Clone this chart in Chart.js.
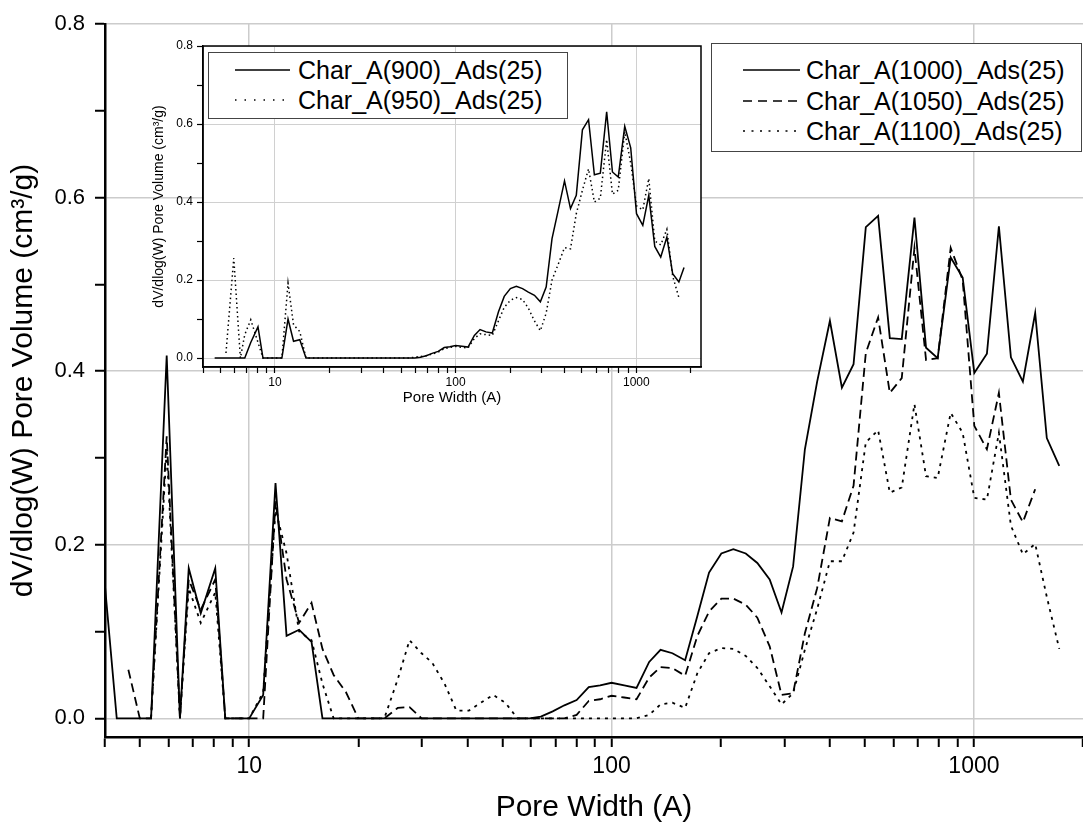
<!DOCTYPE html>
<html>
<head>
<meta charset="utf-8">
<title>Pore size distribution</title>
<script src="https://cdn.jsdelivr.net/npm/chart.js@4.4.1/dist/chart.umd.min.js"></script>
<style>
  html, body { margin: 0; padding: 0; background: #fff; overflow: hidden; }
  #wrap { position: relative; width: 1083px; height: 830px; overflow: hidden; }
  #mainChart { position: absolute; left: 0; top: 0; }
  #insetChart { position: absolute; left: 130px; top: 30px; }
  .legend {
    position: absolute; background: #fff; border: 1.5px solid #444; box-sizing: border-box;
    font-family: "Liberation Sans", Arial, sans-serif; font-size: 25px; color: #000;
  }
  .legend .row { position: absolute; left: 0; right: 0; height: 30px; line-height: 30px; white-space: nowrap; }
  .legend svg { position: absolute; top: 10px; }
  .legend span { position: absolute; top: 0; }
</style>
</head>
<body>
<div id="wrap">
  <!-- canvas is 6px wider than the page: the x axis runs off the right edge like the original -->
  <canvas id="mainChart" width="1089" height="830"></canvas>
  <canvas id="insetChart" width="576" height="380"></canvas>
  <div id="mainLegend" class="legend" style="left:711px;top:43px;width:371px;height:109px"></div>
  <div id="insetLegend" class="legend" style="left:208px;top:52px;width:360px;height:67px"></div>
</div>
<script>
// pore widths (A), shared by every curve
const poreWidth = [
  4.0, 4.31, 4.64, 4.99, 5.36, 5.92, 6.44, 6.81, 7.35, 8.06,
  8.59, 9.25, 10.0, 10.93, 11.82, 12.68, 13.73, 14.86, 15.93, 17.1,
  18.5, 20.0, 21.8, 23.6, 25.7, 27.7, 29.9, 32.0, 34.6, 37.3,
  40.4, 43.6, 47.1, 50.9, 55.0, 59.4, 63.8, 68.8, 74.1, 80.1,
  86.5, 93.0, 100, 108.4, 117.2, 127.0, 136.5, 147.2, 159.6, 172.5,
  185.8, 200.9, 216.8, 234.6, 252.5, 273.1, 294.5, 317.0, 341.6, 369.3,
  400.5, 432.2, 465.4, 503.1, 544.0, 586.0, 632.2, 685.3, 737.7, 794.3,
  862.8, 931.0, 1002.5, 1086, 1172, 1265, 1365, 1476, 1589, 1720, 1837
];

// main plot
const char1000 = [
  0.152, 0, 0, 0, 0, 0.418, 0, 0.173, 0.121, 0.173,
  0, 0, 0, 0.027, 0.271, 0.095, 0.102, 0.088, 0, 0,
  0, 0, 0, 0, 0, 0, 0, 0, 0, 0,
  0, 0, 0, 0, 0, 0, 0.002, 0.008, 0.015, 0.021,
  0.036, 0.038, 0.041, 0.038, 0.035, 0.065, 0.079, 0.075, 0.067, 0.118,
  0.168, 0.190, 0.195, 0.190, 0.179, 0.160, 0.122, 0.175, 0.310, 0.388,
  0.458, 0.381, 0.408, 0.566, 0.579, 0.438, 0.437, 0.577, 0.427, 0.415,
  0.531, 0.508, 0.398, 0.420, 0.567, 0.416, 0.388, 0.467, 0.323, 0.291, null
];
const char1050 = [
  null, null, 0.056, 0, 0, 0.325, 0, 0.160, 0.125, 0.160,
  0, 0, 0, 0, 0.250, 0.160, 0.110, 0.133, 0.080, 0.050,
  0.030, 0, 0, 0, 0.012, 0.013, 0, 0, 0, 0,
  0, 0, 0, 0, 0, 0, 0, 0, 0, 0.004,
  0.020, 0.022, 0.026, 0.024, 0.022, 0.047, 0.059, 0.058, 0.049, 0.095,
  0.123, 0.138, 0.138, 0.131, 0.116, 0.083, 0.027, 0.029, 0.098, 0.150,
  0.231, 0.227, 0.268, 0.421, 0.462, 0.375, 0.392, 0.542, 0.413, 0.415,
  0.542, 0.505, 0.337, 0.310, 0.375, 0.252, 0.226, 0.264, null, null, null
];
const char1100 = [
  null, null, null, null, 0, 0.310, 0, 0.150, 0.110, 0.145,
  0, 0, 0, 0.030, 0.240, 0.190, 0.100, 0.090, 0.040, 0,
  0, 0, 0, 0, 0.045, 0.090, 0.075, 0.064, 0.040, 0.009,
  0.009, 0.018, 0.027, 0.018, 0, 0, 0, 0, 0, 0,
  0, 0, 0, 0, 0, 0.004, 0.016, 0.018, 0.012, 0.052,
  0.075, 0.081, 0.080, 0.072, 0.058, 0.037, 0.016, 0.029, 0.079, 0.126,
  0.181, 0.181, 0.214, 0.318, 0.332, 0.260, 0.266, 0.362, 0.279, 0.277,
  0.352, 0.329, 0.254, 0.252, 0.329, 0.222, 0.189, 0.201, 0.140, 0.080, null
];

// inset plot
const char900 = [
  null, null, 0, 0, 0, 0, 0, 0, 0.040, 0.080,
  0, 0, 0, 0, 0.100, 0.043, 0.047, 0, 0, 0,
  0, 0, 0, 0, 0, 0, 0, 0, 0, 0,
  0, 0, 0, 0, 0, 0, 0.002, 0.006, 0.012, 0.017,
  0.027, 0.029, 0.032, 0.030, 0.028, 0.058, 0.073, 0.067, 0.064, 0.118,
  0.158, 0.178, 0.184, 0.178, 0.169, 0.161, 0.144, 0.182, 0.306, 0.378,
  0.454, 0.383, 0.417, 0.585, 0.611, 0.470, 0.474, 0.631, 0.477, 0.464,
  0.594, 0.539, 0.370, 0.340, 0.417, 0.286, 0.259, 0.310, 0.216, 0.195, 0.232
];
const char950 = [
  null, null, null, null, 0.013, 0.256, 0, 0.060, 0.098, 0.040,
  0, 0, 0, 0, 0.192, 0.085, 0.068, 0, 0, 0,
  0, 0, 0, 0, 0, 0, 0, 0, 0, 0,
  0, 0, 0, 0, 0, 0.002, 0.004, 0.006, 0.010, 0.015,
  0.024, 0.027, 0.030, 0.027, 0.026, 0.050, 0.062, 0.060, 0.058, 0.095,
  0.130, 0.148, 0.155, 0.150, 0.128, 0.095, 0.070, 0.115, 0.200, 0.240,
  0.283, 0.280, 0.370, 0.430, 0.485, 0.400, 0.410, 0.560, 0.420, 0.430,
  0.580, 0.500, 0.390, 0.380, 0.460, 0.300, 0.290, 0.330, 0.210, 0.155, null
];

const mainLabels = ["Char_A(1000)_Ads(25)", "Char_A(1050)_Ads(25)", "Char_A(1100)_Ads(25)"];
const insetLabels = ["Char_A(900)_Ads(25)", "Char_A(950)_Ads(25)"];
const xTickLabels = [10, 100, 1000];
const yTickLabels = [0, 0.2, 0.4, 0.6, 0.8];

// check if the narrow font is there, else fall back to regular
function fontExists(name) {
  const c = document.createElement("canvas").getContext("2d");
  const probe = "Pore Width (A) 1000";
  c.font = "40px monospace";
  const base = c.measureText(probe).width;
  c.font = `40px "${name}", monospace`;
  return c.measureText(probe).width !== base;
}
const hasNarrow = fontExists("Liberation Sans Narrow");
const narrowFam = hasNarrow ? '"Liberation Sans Narrow", "Liberation Sans", sans-serif' : '"Liberation Sans", Arial, sans-serif';
const regularFam = '"Liberation Sans", Arial, sans-serif';

function toPoints(vals) {
  return poreWidth.map((w, i) => ({ x: w, y: vals[i] }));
}

// 1..9 x decade positions for the tick marks
function logTickValues(min, max) {
  const out = [];
  for (let e = 0; e <= 3; e++) {
    for (let m = 1; m <= 9; m++) {
      const v = m * Math.pow(10, e);
      if (v >= min - 1e-9 && v <= max + 1e-9) out.push(v);
    }
  }
  return out;
}
const isXMajor = (v) => xTickLabels.some((t) => Math.abs(t - v) < 1e-6);
const isYMajor = (v) => yTickLabels.some((t) => Math.abs(t - v) < 1e-6);

function makeLine(label, vals, dash, width) {
  return {
    label: label,
    data: toPoints(vals),
    borderColor: "#000",
    borderWidth: width,
    borderDash: dash,
    pointRadius: 0,
    pointHoverRadius: 0,
    tension: 0,
    fill: false,
    spanGaps: false,
  };
}

const mainDash = [[], [9, 5], [3, 5]];
const insetDash = [[], [1.5, 3]];

function axisOptions(cfg) {
  return {
    x: {
      type: "logarithmic",
      min: cfg.xMin,
      max: cfg.xMax,
      bounds: "data",
      afterBuildTicks: (s) => {
        s.ticks = logTickValues(cfg.xMin, cfg.xMax).map((v) => ({ value: v }));
      },
      afterFit: (s) => { s.height = cfg.xHeight; },
      ticks: {
        autoSkip: false,
        maxRotation: 0,
        minRotation: 0,
        padding: cfg.xTickPad,
        color: "#000",
        font: { family: cfg.xTickFam, size: cfg.xTickSize },
        callback: (v) => (isXMajor(v) ? String(Math.round(v)) : ""),
      },
      grid: {
        color: (c) => (c.tick && isXMajor(c.tick.value) ? cfg.gridColor : "rgba(0,0,0,0)"),
        lineWidth: cfg.gridWidth,
        tickColor: "#000",
        tickWidth: cfg.tickWidth,
        tickLength: cfg.tickLength,
      },
      border: { color: "#000", width: cfg.axisWidth },
      title: {
        display: true,
        text: "Pore Width (A)",
        color: "#000",
        font: { family: cfg.titleFam, size: cfg.xTitleSize },
        padding: { top: 0, bottom: cfg.xTitlePad },
      },
    },
    y: {
      type: "linear",
      min: cfg.yMin,
      max: 0.8,
      bounds: "data",
      afterBuildTicks: (s) => {
        const t = [];
        for (let k = 0; k <= 8; k++) t.push({ value: k / 10 });
        s.ticks = t;
      },
      afterFit: (s) => { s.width = cfg.yWidth; },
      ticks: {
        autoSkip: false,
        padding: cfg.yTickPad,
        color: "#000",
        font: { family: regularFam, size: cfg.yTickSize },
        callback: (v) => (isYMajor(v) ? v.toFixed(1) : ""),
      },
      grid: {
        color: (c) => (c.tick && isYMajor(c.tick.value) ? cfg.gridColor : "rgba(0,0,0,0)"),
        lineWidth: cfg.gridWidth,
        tickColor: "#000",
        tickWidth: cfg.tickWidth,
        tickLength: cfg.tickLength,
      },
      border: { color: "#000", width: cfg.axisWidth },
      title: {
        display: true,
        text: "dV/dlog(W) Pore Volume (cm³/g)",
        color: "#000",
        font: { family: cfg.yTitleFam, size: cfg.yTitleSize },
        padding: { top: cfg.yTitlePad, bottom: 0 },
      },
    },
  };
}

// white plot background + frame for the inset
const insetFrame = {
  id: "insetFrame",
  beforeDraw(chart) {
    const a = chart.chartArea;
    chart.ctx.save();
    chart.ctx.fillStyle = "#fff";
    chart.ctx.fillRect(a.left, a.top, a.right - a.left, a.bottom - a.top);
    chart.ctx.restore();
  },
  afterDraw(chart) {
    const a = chart.chartArea;
    chart.ctx.save();
    chart.ctx.strokeStyle = "#000";
    chart.ctx.lineWidth = 1.5;
    chart.ctx.strokeRect(a.left, a.top, a.right - a.left, a.bottom - a.top);
    chart.ctx.restore();
  },
};

const mainChart = new Chart(document.getElementById("mainChart"), {
  type: "line",
  data: {
    datasets: [
      makeLine(mainLabels[0], char1000, mainDash[0], 1.8),
      makeLine(mainLabels[1], char1050, mainDash[1], 1.8),
      makeLine(mainLabels[2], char1100, mainDash[2], 1.8),
    ],
  },
  options: {
    responsive: false,
    animation: false,
    layout: { autoPadding: false, padding: { top: 24, right: 0, left: 0, bottom: 0 } },
    plugins: { legend: { display: false }, tooltip: { enabled: false } },
    scales: axisOptions({
      xMin: 4, xMax: 2000, yMin: -0.0215,
      xHeight: 93, yWidth: 105,
      xTickFam: narrowFam, xTickSize: hasNarrow ? 28 : 23, xTickPad: 6,
      yTickSize: 22, yTickPad: 10,
      titleFam: narrowFam, xTitleSize: hasNarrow ? 36 : 30, xTitlePad: hasNarrow ? 0 : 4,
      yTitleFam: narrowFam, yTitleSize: hasNarrow ? 36 : 30, yTitlePad: 6,
      gridColor: "#cccccc", gridWidth: 1.5,
      tickWidth: 2, tickLength: 10, axisWidth: 2.5,
    }),
  },
});

const insetChart = new Chart(document.getElementById("insetChart"), {
  type: "line",
  data: {
    datasets: [
      makeLine(insetLabels[0], char900, insetDash[0], 1.5),
      makeLine(insetLabels[1], char950, insetDash[1], 1.5),
    ],
  },
  options: {
    responsive: false,
    animation: false,
    layout: { autoPadding: false, padding: { top: 16, right: 5, left: 0, bottom: 0 } },
    plugins: { legend: { display: false }, tooltip: { enabled: false } },
    scales: axisOptions({
      xMin: 4, xMax: 2280, yMin: -0.023,
      xHeight: 43, yWidth: 73,
      xTickFam: regularFam, xTickSize: 12, xTickPad: 2,
      yTickSize: 12, yTickPad: 4,
      titleFam: regularFam, xTitleSize: 15, xTitlePad: 3,
      yTitleFam: regularFam, yTitleSize: 14, yTitlePad: 21,
      gridColor: "#d0d0d0", gridWidth: 1,
      tickWidth: 1.2, tickLength: 6, axisWidth: 1.5,
    }),
  },
  plugins: [insetFrame],
});

// html legends, line samples follow the dataset dash
function buildLegend(el, chart, opts) {
  chart.data.datasets.forEach((ds, i) => {
    const row = document.createElement("div");
    row.className = "row";
    row.style.top = opts.firstTop + i * opts.step + "px";
    const dash = (opts.dash[i] || []).join(" ");
    row.innerHTML = `
      <svg width="${opts.sampleW}" height="10" style="left:${opts.sampleX}px">
        <line x1="0" y1="5" x2="${opts.sampleW}" y2="5" stroke="#000" stroke-width="1.5" stroke-dasharray="${dash}"/>
      </svg>
      <span style="left:${opts.textX}px">${ds.label}</span>`;
    el.appendChild(row);
  });
}

buildLegend(document.getElementById("mainLegend"), mainChart, {
  firstTop: 11, step: 30.5, sampleX: 31, sampleW: 57, textX: 94,
  dash: [[], [9, 6], [2, 6.5]],
});
buildLegend(document.getElementById("insetLegend"), insetChart, {
  firstTop: 1.5, step: 30, sampleX: 26, sampleW: 55, textX: 89,
  dash: [[], [1.5, 8]],
});
</script>
</body>
</html>
